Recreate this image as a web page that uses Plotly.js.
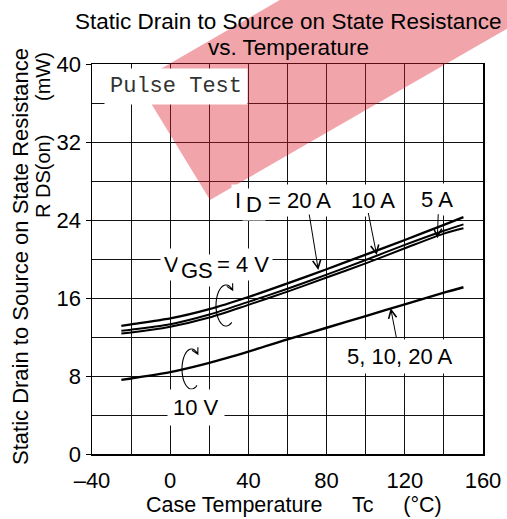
<!DOCTYPE html>
<html>
<head>
<meta charset="utf-8">
<script src="https://cdn.plot.ly/plotly-3.0.1.min.js"></script>
<style>html,body{margin:0;padding:0;background:#fff;}#chart{width:507px;height:519px;}</style>
</head>
<body>
<div id="chart"></div>
<script>
// ---- data ----
const caseTemp = [-25, -20, 0, 20, 40, 60, 80, 100, 120, 140, 150];
const rds4V_20A = [13.15, 13.3, 13.9, 14.85, 16.1, 17.5, 18.95, 20.45, 21.95, 23.5, 24.3];
const rds4V_10A = [12.65, 12.75, 13.3, 14.3, 15.6, 16.95, 18.4, 19.9, 21.45, 22.9, 23.55];
const rds4V_5A  = [12.35, 12.45, 13.05, 14.0, 15.3, 16.65, 18.1, 19.55, 21.1, 22.6, 23.15];
const rds10V    = [7.6, 7.75, 8.4, 9.35, 10.5, 11.75, 12.95, 14.15, 15.35, 16.55, 17.1];
const xTickVals = [-40, 0, 40, 80, 120, 160];
const xTickText = ['\u201340', '0', '40', '80', '120', '160'];

// ---- layout helpers (pixel -> paper / data) ----
const L = 92, R = 483, T = 64, B = 454, W = 507, H = 519;
const PX = p => (p - L) / (R - L);
const PY = p => (B - p) / (B - T);
const DX = p => -40 + (p - L) * 200 / (R - L);
const DY = p => (B - p) * 40 / (B - T);

const FONT = 'Liberation Sans, Arial, sans-serif';
const fs = 22;

function line(y, w) {
  return {x: caseTemp, y: y, type: 'scatter', mode: 'lines', hoverinfo: 'skip',
          line: {color: '#000', width: w, shape: 'spline', smoothing: 0.8}, showlegend: false};
}
const data = [line(rds4V_20A, 2.3), line(rds4V_10A, 2), line(rds4V_5A, 2), line(rds10V, 2.4)];

function lab(text, cx, cy, opts) {
  return Object.assign({x: DX(cx), y: DY(cy), xref: 'x', yref: 'y', text: text, showarrow: false,
    xanchor: 'center', yanchor: 'middle', bgcolor: '#fff', borderpad: 3,
    font: {family: FONT, size: fs, color: '#000'}}, opts || {});
}
function arrow(tx, ty, sx, sy) {
  return {x: DX(tx), y: DY(ty), xref: 'x', yref: 'y', text: '', showarrow: true,
    ax: sx - tx, ay: sy - ty, arrowhead: 5, arrowsize: 1.6, arrowwidth: 1, arrowcolor: '#000', standoff: 0};
}
function ptext(text, cx, cy, size, angle) {
  return {x: PX(cx), y: PY(cy), xref: 'paper', yref: 'paper', text: text, textangle: angle || 0,
    showarrow: false, xanchor: 'center', yanchor: 'middle', font: {family: FONT, size: size, color: '#000'}};
}

const annotations = [
  lab('Pulse Test', 175.5, 86, {font: {family: 'Liberation Mono, Courier New, monospace', size: 22, color: '#333'}, borderpad: 5}),
  lab('I', 237.5, 200),
  lab('D', 253.5, 204.5),
  lab('= 20 A', 299, 200),
  lab('10 A', 372.5, 200),
  lab('5 A', 437, 199),
  lab('V', 171.7, 264),
  lab('GS', 196.7, 270),
  lab('= 4 V', 243.3, 264.5),
  lab('10 V', 195.8, 407.5, {borderpad: 5}),
  lab('5, 10, 20 A', 400, 356, {borderpad: 4}),
  arrow(318.3, 270, 309, 213),
  arrow(376.7, 255, 368, 211.5),
  arrow(437.3, 238.3, 438.3, 212.7),
  arrow(390.7, 308.3, 396.7, 339.3),
  // chart title (two lines)
  ptext('Static Drain to Source on State Resistance', 287.5, 22, 22.5),
  ptext('vs. Temperature', 288.5, 48, 22.5),
  // axis titles
  ptext('Case Temperature\u00a0\u00a0\u00a0\u00a0 Tc\u00a0\u00a0\u00a0\u00a0 (\u00b0C)', 294, 505, 21.5),
  ptext('Static Drain to Source on State Resistance', 20, 257, fs, -90),
  ptext('R DS(on)', 43, 177, 20, -90),
  ptext('(mW)', 43, 77, 20, -90)
];

// rotation-mark arcs (decorations)
function arcPath(cx, cy, rx, ry, t0, t1) {
  let d = '';
  const n = 40;
  for (let i = 0; i <= n; i++) {
    const t = (t0 + (t1 - t0) * i / n) * Math.PI / 180;
    const px = cx + rx * Math.cos(t), py = cy + ry * Math.sin(t);
    d += (i === 0 ? 'M' : 'L') + DX(px).toFixed(3) + ',' + DY(py).toFixed(3);
  }
  const te = t1 * Math.PI / 180;
  const ex = cx + rx * Math.cos(te), ey = cy + ry * Math.sin(te);
  let vx = -rx * Math.sin(te), vy = ry * Math.cos(te);
  const m = Math.hypot(vx, vy); vx /= m; vy /= m;
  const hl = 7, a = 28 * Math.PI / 180;
  const h1x = ex - hl * (vx * Math.cos(a) - vy * Math.sin(a)), h1y = ey - hl * (vx * Math.sin(a) + vy * Math.cos(a));
  const h2x = ex - hl * (vx * Math.cos(-a) - vy * Math.sin(-a)), h2y = ey - hl * (vx * Math.sin(-a) + vy * Math.cos(-a));
  d += 'M' + DX(h1x).toFixed(3) + ',' + DY(h1y).toFixed(3) + 'L' + DX(ex).toFixed(3) + ',' + DY(ey).toFixed(3) +
       'L' + DX(h2x).toFixed(3) + ',' + DY(h2y).toFixed(3);
  return d;
}

const shapes = [
  {type: 'path', xref: 'x', yref: 'y', path: arcPath(226, 305.5, 10, 20.5, 55, 312), line: {color: '#000', width: 1.1}},
  {type: 'path', xref: 'x', yref: 'y', path: arcPath(191.5, 369, 9.5, 20, 55, 312), line: {color: '#000', width: 1.1}},
  // watermark band
  {type: 'path', xref: 'paper', yref: 'paper', layer: 'above',
   path: 'M' + PX(138) + ',' + PY(82) + 'L' + PX(210) + ',' + PY(200) + 'L' + PX(730) + ',' + PY(-100) + 'L' + PX(660) + ',' + PY(-220) + 'Z',
   fillcolor: 'rgba(220,30,45,0.40)', line: {width: 0}}
];

const axisCommon = {showline: true, mirror: true, linecolor: '#000', linewidth: 1.5, zeroline: false,
  showgrid: true, gridcolor: '#111', gridwidth: 1, fixedrange: true,
  tickfont: {family: FONT, size: fs, color: '#000'}};

const layout = {
  width: W, height: H,
  margin: {l: L, r: W - R, t: T, b: H - B, pad: 0},
  paper_bgcolor: '#fff', plot_bgcolor: '#fff',
  xaxis: Object.assign({}, axisCommon, {range: [-40, 160], tickvals: xTickVals, ticktext: xTickText,
          ticks: '', ticklabelstandoff: 6, minor: {dtick: 20, tick0: -40, showgrid: true, gridcolor: '#111', gridwidth: 1}}),
  yaxis: Object.assign({}, axisCommon, {range: [0, 40], dtick: 8, tick0: 0, ticks: 'outside', ticklen: 5,
          tickcolor: '#000', tickwidth: 1, minor: {dtick: 4, showgrid: true, gridcolor: '#111', gridwidth: 1}}),
  annotations: annotations,
  shapes: shapes,
  showlegend: false
};

Plotly.newPlot('chart', data, layout, {displayModeBar: false, staticPlot: true});
</script>
</body>
</html>
